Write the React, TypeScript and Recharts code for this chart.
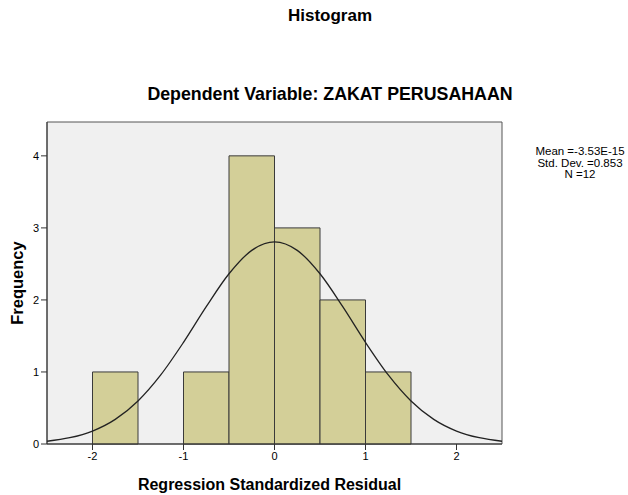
import React from "react";
import { ComposedChart, Line, XAxis, YAxis, ReferenceArea, Label } from "recharts";

const binStart = [-2, -1, -0.5, 0, 0.5, 1];
const binEnd = [-1.5, -0.5, 0, 0.5, 1, 1.5];
const binCount = [1, 1, 4, 3, 2, 1];

const curveX = [-2.5, -2.25, -2, -1.75, -1.5, -1.25, -1, -0.75, -0.5, -0.25, 0, 0.25, 0.5, 0.75, 1, 1.25, 1.5, 1.75, 2, 2.25, 2.5];
const curveY = [0.038, 0.087, 0.18, 0.342, 0.598, 0.959, 1.411, 1.906, 2.363, 2.688, 2.806, 2.688, 2.363, 1.906, 1.411, 0.959, 0.598, 0.342, 0.18, 0.087, 0.038];

const xTicks = [-2, -1, 0, 1, 2];
const yTicks = [0, 1, 2, 3, 4];
const statLines = ["Mean =-3.53E-15", "Std. Dev. =0.853", "N =12"];

const curveData = curveX.map((x, i) => ({ x, y: curveY[i] }));

const font = "'Liberation Sans', Arial, sans-serif";

export default function App() {
  return (
    <div style={{ position: "absolute", left: 0, top: 0, width: 628, height: 495, background: "#fff", fontFamily: font }}>
      <div style={{ position: "absolute", left: 0, width: 660, top: 6, textAlign: "center", fontWeight: "bold", fontSize: 17, color: "#000" }}>Histogram</div>
      <div style={{ position: "absolute", left: 0, width: 660, top: 84, textAlign: "center", fontWeight: "bold", fontSize: 17.8, color: "#000" }}>Dependent Variable: ZAKAT PERUSAHAAN</div>
      <div style={{ position: "absolute", left: 530, width: 100, top: 146, textAlign: "center", fontSize: 11.5, lineHeight: "11.5px", color: "#000" }}>
        {statLines.map((s) => (
          <div key={s}>{s}</div>
        ))}
      </div>
      <div style={{ position: "absolute", left: 0, top: 0 }}>
        <ComposedChart width={628} height={495} data={curveData} margin={{ top: 122, right: 126, bottom: 21, left: 0 }}>
          <ReferenceArea x1={-2.5} x2={2.5} y1={0} y2={4.47} fill="#f0f0f0" fillOpacity={1} stroke="#555" strokeWidth={1} ifOverflow="extendDomain" />
          {binStart.map((s, i) => (
            <ReferenceArea key={i} x1={s} x2={binEnd[i]} y1={0} y2={binCount[i]} fill="#d3cf98" fillOpacity={1} stroke="#3a3a3a" strokeWidth={1} />
          ))}
          <XAxis
            dataKey="x"
            type="number"
            domain={[-2.5, 2.5]}
            ticks={xTicks}
            height={30}
            tickSize={6}
            axisLine={{ stroke: "#333" }}
            tickLine={{ stroke: "#333" }}
            tick={{ fill: "#000", fontSize: 11, fontFamily: font }}
            allowDataOverflow
          >
            <Label value="Regression Standardized Residual" position="insideBottom" offset={-16} dx={-5} style={{ fontWeight: "bold", fontSize: 16, fill: "#000", fontFamily: font }} />
          </XAxis>
          <YAxis
            type="number"
            domain={[0, 4.47]}
            ticks={yTicks}
            width={47}
            tickSize={6}
            axisLine={{ stroke: "#333" }}
            tickLine={{ stroke: "#333" }}
            tick={{ fill: "#000", fontSize: 11, fontFamily: font }}
            allowDataOverflow
          >
            <Label value="Frequency" angle={-90} position="insideLeft" offset={17} style={{ fontWeight: "bold", fontSize: 16.5, fill: "#000", fontFamily: font, textAnchor: "middle" }} />
          </YAxis>
          <Line type="monotone" dataKey="y" stroke="#222" strokeWidth={1.3} dot={false} activeDot={false} isAnimationActive={false} />
        </ComposedChart>
      </div>
    </div>
  );
}
